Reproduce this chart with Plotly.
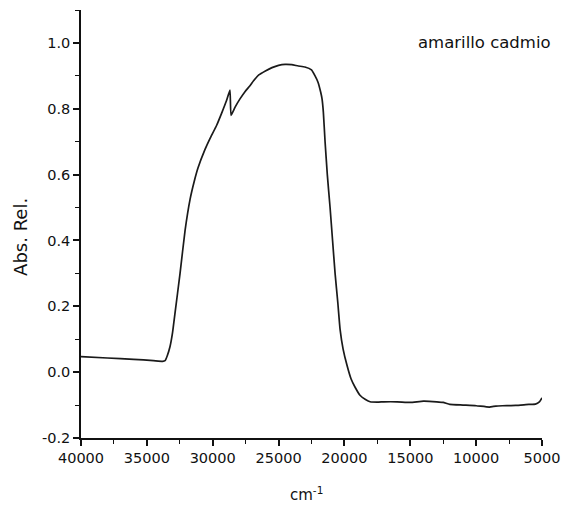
import plotly.graph_objects as go

wavenumber = [40000, 38000, 36000, 34500, 33800, 33620, 33450, 33240, 33050, 32860, 32480, 32100,
              31720, 31400, 31120, 30600, 30200, 29700, 29290, 28950, 28690, 28610, 28300, 27930, 27550,
              27170, 26900, 26500, 26000, 25500, 25000, 24500, 24000, 23500, 23000, 22500, 22230,
              22000, 21800, 21700, 21600, 21470, 21300, 21090, 20900, 20710, 20500, 20330, 20100,
              19800, 19500, 19200, 18820, 18400, 18050, 17500, 17000, 16000, 15000, 14000, 13000,
              12500, 12000, 11000, 10000, 9000, 8500, 8000, 7000, 6000, 5500, 5200, 5000]
absorbance = [0.047, 0.043, 0.039, 0.035, 0.033, 0.035, 0.050, 0.078, 0.120, 0.180, 0.300, 0.430,
              0.525, 0.580, 0.620, 0.675, 0.710, 0.750, 0.790, 0.825, 0.857, 0.780, 0.805, 0.830, 0.852,
              0.870, 0.885, 0.903, 0.915, 0.925, 0.932, 0.935, 0.934, 0.930, 0.927, 0.918, 0.900,
              0.880, 0.850, 0.830, 0.790, 0.700, 0.600, 0.500, 0.400, 0.300, 0.210, 0.130, 0.070,
              0.020, -0.020, -0.045, -0.070, -0.083, -0.090, -0.091, -0.090, -0.090, -0.092, -0.088, -0.090,
              -0.092, -0.098, -0.100, -0.102, -0.106, -0.103, -0.102, -0.101, -0.098, -0.097, -0.090, -0.078]

label = "amarillo cadmio"
x_title = "cm<sup>-1</sup>"
y_title = "Abs. Rel."
x_ticks = [40000, 35000, 30000, 25000, 20000, 15000, 10000, 5000]
y_ticks = [-0.2, 0.0, 0.2, 0.4, 0.6, 0.8, 1.0]
y_ticktext = ["-0.2", "0.0", "0.2", "0.4", "0.6", "0.8", "1.0"]

font_family = "DejaVu Sans, Liberation Sans, Arial, sans-serif"
ink = "#111111"

fig = go.Figure()
fig.add_trace(go.Scatter(x=wavenumber, y=absorbance, mode="lines",
                         line=dict(color="#1a1a1a", width=1.7, shape="spline", smoothing=0.4),
                         showlegend=False))

fig.add_annotation(x=1.024, y=0.925, xref="paper", yref="paper", text=label, showarrow=False,
                   xanchor="right", yanchor="middle",
                   font=dict(family=font_family, size=16.5, color=ink))
fig.add_annotation(x=-0.13, y=0.47, xref="paper", yref="paper", text=y_title, showarrow=False,
                   textangle=-90, xanchor="center", yanchor="middle",
                   font=dict(family=font_family, size=18, color=ink))
fig.add_annotation(x=0.49, y=-0.13, xref="paper", yref="paper", text=x_title, showarrow=False,
                   xanchor="center", yanchor="middle",
                   font=dict(family=font_family, size=15, color=ink))

axis_common = dict(showgrid=False, zeroline=False, showline=True, linecolor=ink, linewidth=1.5,
                   ticks="outside", ticklen=6, tickwidth=1.5, tickcolor=ink, automargin=False,
                   tickfont=dict(family=font_family, size=14.5, color=ink))

fig.update_layout(
    width=563, height=508,
    margin=dict(l=81, r=21, t=10, b=70),
    paper_bgcolor="white", plot_bgcolor="white",
    font=dict(family=font_family, size=14, color=ink),
    xaxis=dict(range=[40000, 5000], tickvals=x_ticks, ticktext=[str(v) for v in x_ticks],
               minor=dict(dtick=2500, ticks="outside", ticklen=4, tickwidth=1.2, tickcolor=ink),
               **axis_common),
    yaxis=dict(range=[-0.2, 1.1], tickvals=y_ticks, ticktext=y_ticktext,
               minor=dict(dtick=0.1, ticks="outside", ticklen=4, tickwidth=1.2, tickcolor=ink),
               **axis_common),
)

fig.write_html("out.html")
